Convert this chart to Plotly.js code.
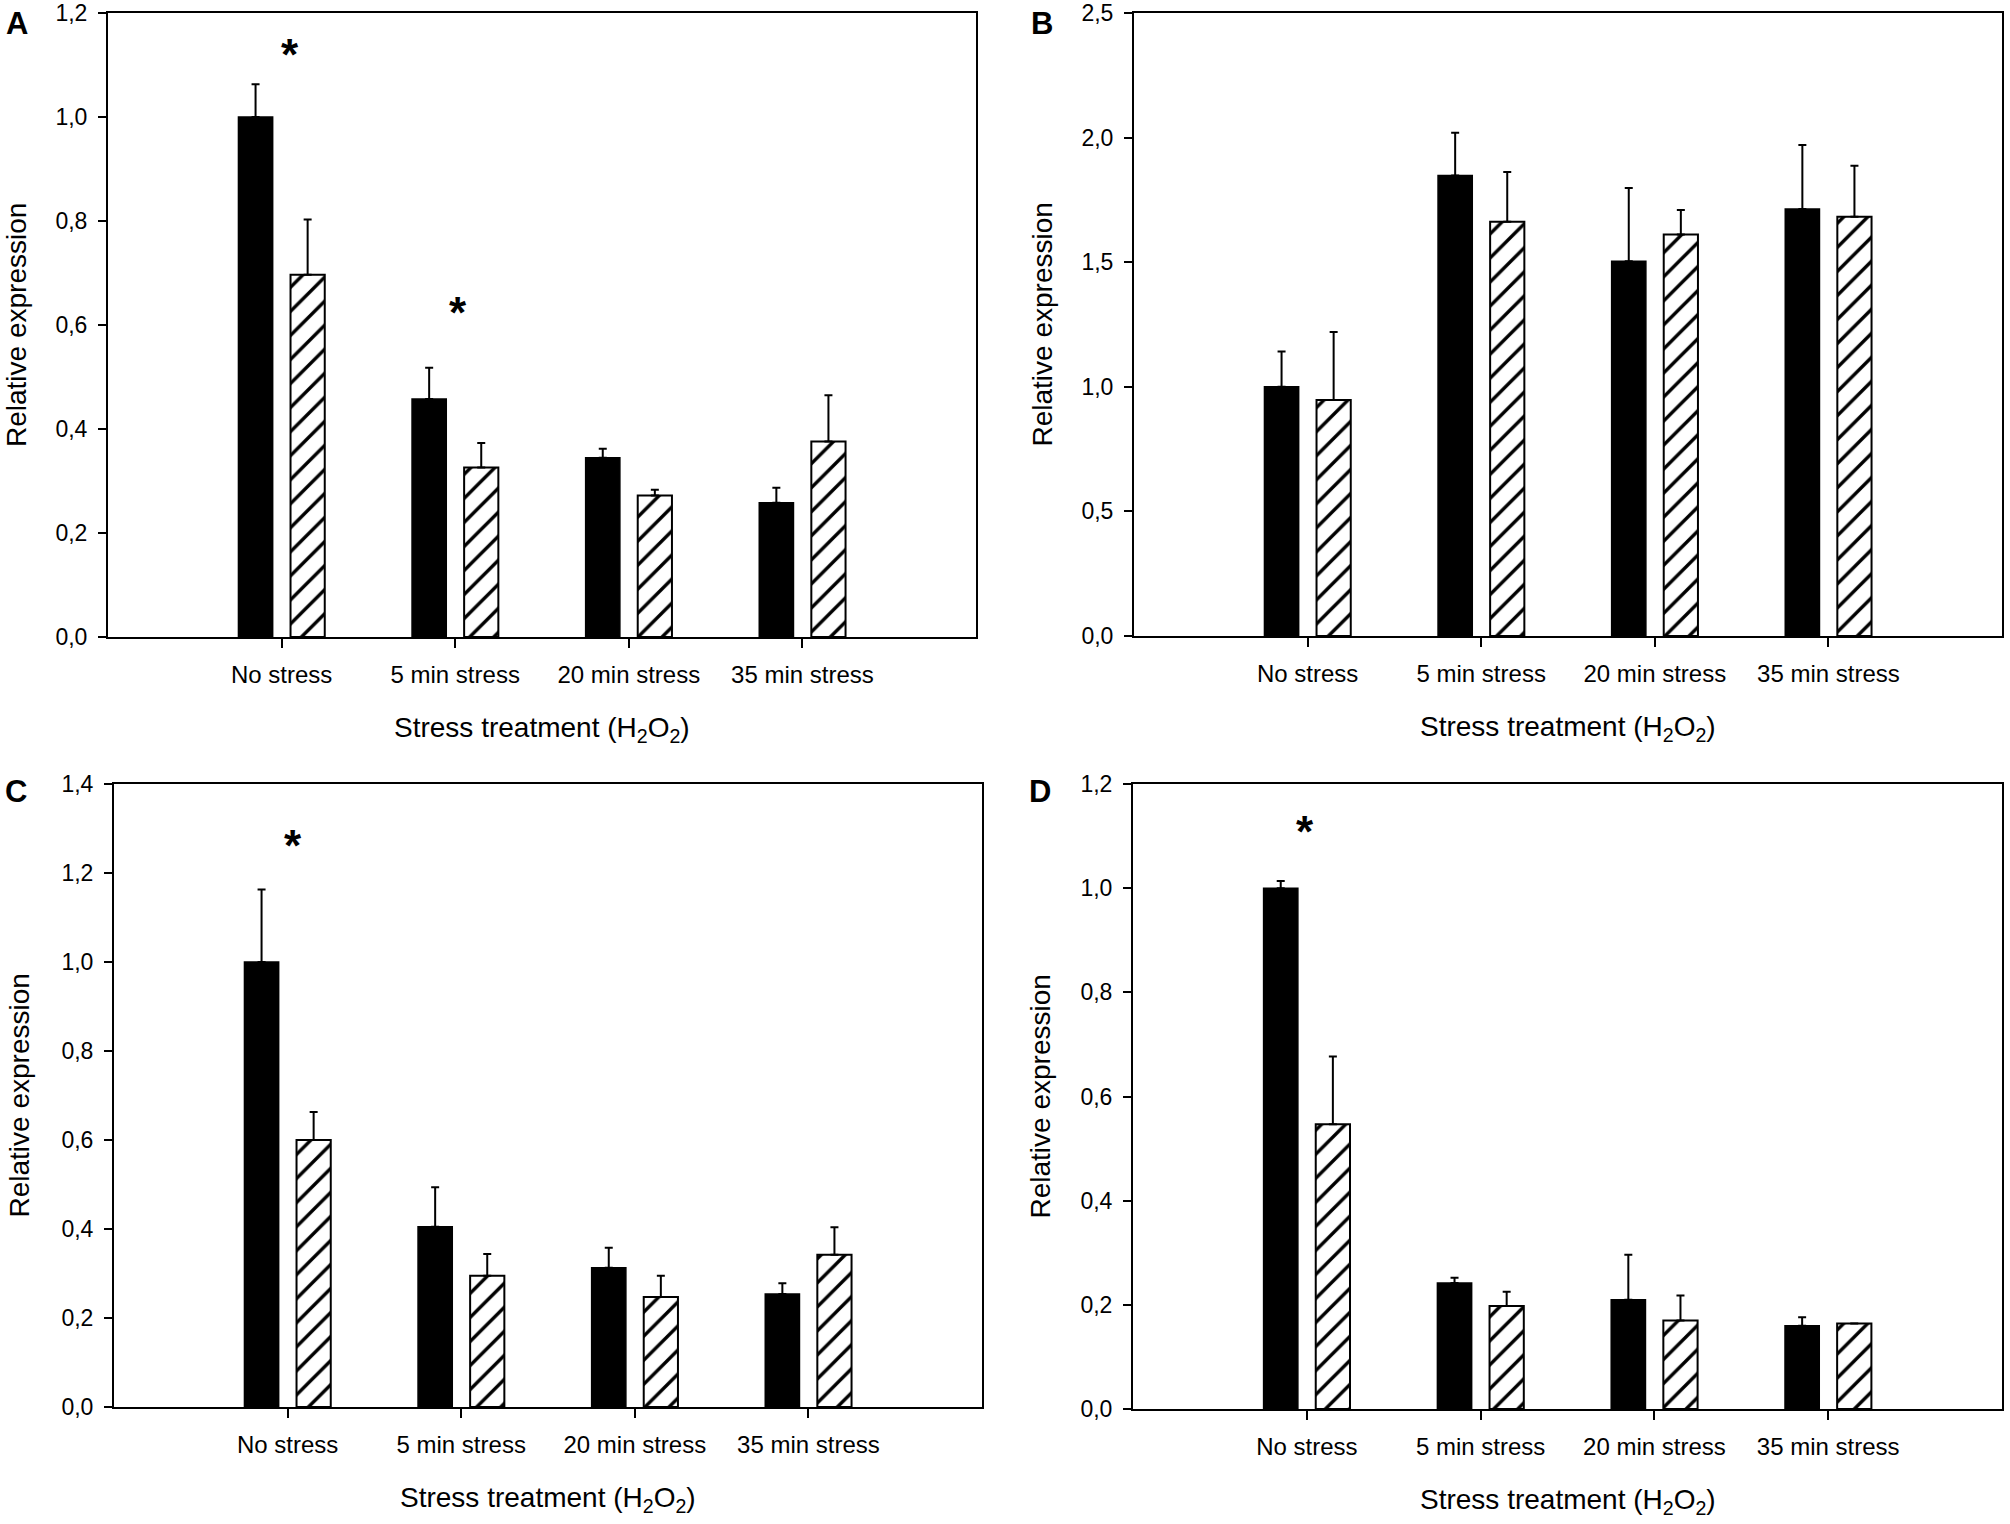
<!DOCTYPE html>
<html>
<head>
<meta charset="utf-8">
<script src="https://cdn.plot.ly/plotly-3.0.1.min.js"></script>
<style>
  html, body { margin: 0; padding: 0; background: #fff; }
  #chart { width: 2010px; height: 1524px; }
</style>
</head>
<body>
<div id="chart"></div>
<script>
const categories = ['No stress', '5 min stress', '20 min stress', '35 min stress'];

// panel A
const aSolid = [1.0, 0.458, 0.345, 0.258];
const aSolidErr = [0.063, 0.060, 0.017, 0.029];
const aHatched = [0.697, 0.326, 0.272, 0.376];
const aHatchedErr = [0.106, 0.047, 0.011, 0.089];
const aTicks = [0, 0.2, 0.4, 0.6, 0.8, 1.0, 1.2];
const aTickText = ['0,0', '0,2', '0,4', '0,6', '0,8', '1,0', '1,2'];
const aStarCats = ['No stress', '5 min stress'];
const aStarY = [1.135, 0.64];

// panel B
const bSolid = [1.0, 1.848, 1.504, 1.714];
const bSolidErr = [0.142, 0.172, 0.294, 0.257];
const bHatched = [0.947, 1.663, 1.611, 1.683];
const bHatchedErr = [0.273, 0.199, 0.099, 0.204];
const bTicks = [0, 0.5, 1.0, 1.5, 2.0, 2.5];
const bTickText = ['0,0', '0,5', '1,0', '1,5', '2,0', '2,5'];
const bStarCats = [];
const bStarY = [];

// panel C
const cSolid = [1.0, 0.405, 0.313, 0.254];
const cSolidErr = [0.163, 0.089, 0.045, 0.024];
const cHatched = [0.600, 0.295, 0.247, 0.342];
const cHatchedErr = [0.063, 0.049, 0.048, 0.062];
const cTicks = [0, 0.2, 0.4, 0.6, 0.8, 1.0, 1.2, 1.4];
const cTickText = ['0,0', '0,2', '0,4', '0,6', '0,8', '1,0', '1,2', '1,4'];
const cStarCats = ['No stress'];
const cStarY = [1.281];

// panel D
const dSolid = [1.0, 0.242, 0.210, 0.160];
const dSolidErr = [0.014, 0.010, 0.086, 0.016];
const dHatched = [0.547, 0.198, 0.170, 0.164];
const dHatchedErr = [0.130, 0.027, 0.048, 0];
const dTicks = [0, 0.2, 0.4, 0.6, 0.8, 1.0, 1.2];
const dTickText = ['0,0', '0,2', '0,4', '0,6', '0,8', '1,0', '1,2'];
const dStarCats = ['No stress'];
const dStarY = [1.125];

const W = 2010, H = 1524;
const FONT = '"Liberation Sans", Arial, Helvetica, sans-serif';
const px = (x) => x / W;
const py = (y) => 1 - y / H;

// frame boxes in page pixels [left, top, right, bottom], label / title anchors
const panels = [
    { letter: 'A', solid: aSolid, solidErr: aSolidErr, hatched: aHatched, hatchedErr: aHatchedErr,
      ticks: aTicks, tickText: aTickText, yMax: 1.2, starCats: aStarCats, starY: aStarY, starShift: [8, 3],
      box: [108, 13, 976, 637], letterPos: [17, 24], yTitleX: 16 },
    { letter: 'B', solid: bSolid, solidErr: bSolidErr, hatched: bHatched, hatchedErr: bHatchedErr,
      ticks: bTicks, tickText: bTickText, yMax: 2.5, starCats: bStarCats, starY: bStarY, starShift: [],
      box: [1134, 13, 2002, 636], letterPos: [1042, 24], yTitleX: 1042 },
    { letter: 'C', solid: cSolid, solidErr: cSolidErr, hatched: cHatched, hatchedErr: cHatchedErr,
      ticks: cTicks, tickText: cTickText, yMax: 1.4, starCats: cStarCats, starY: cStarY, starShift: [5],
      box: [114, 784, 982, 1407], letterPos: [16, 791], yTitleX: 19 },
    { letter: 'D', solid: dSolid, solidErr: dSolidErr, hatched: dHatched, hatchedErr: dHatchedErr,
      ticks: dTicks, tickText: dTickText, yMax: 1.2, starCats: dStarCats, starY: dStarY, starShift: [-2],
      box: [1133, 784, 2002, 1409], letterPos: [1040, 791], yTitleX: 1040 },
];

function axisKeys(i) {
    const n = i === 0 ? '' : String(i + 1);
    return { x: 'x' + n, y: 'y' + n, xa: 'xaxis' + n, ya: 'yaxis' + n };
}

const errStyle = (arr) => ({
    type: 'data', symmetric: false, array: arr, arrayminus: arr.map(() => 0),
    color: '#000', thickness: 2, width: 4,
});

function barTraces(p, k) {
    return [
        {
            type: 'bar', x: categories, y: p.solid, xaxis: k.x, yaxis: k.y,
            marker: { color: '#000', line: { color: '#000', width: 1.5 } },
            error_y: errStyle(p.solidErr), showlegend: false,
        },
        {
            type: 'bar', x: categories, y: p.hatched, xaxis: k.x, yaxis: k.y,
            marker: {
                color: '#fff', line: { color: '#000', width: 2 },
                pattern: { shape: '/', fgcolor: '#000', bgcolor: '#fff', size: 17, solidity: 0.2 },
            },
            error_y: errStyle(p.hatchedErr), showlegend: false,
        },
    ];
}

const data = [];
const annotations = [];
const layout = {
    width: W, height: H,
    margin: { l: 0, r: 0, t: 0, b: 0 },
    paper_bgcolor: '#fff', plot_bgcolor: '#fff',
    font: { family: FONT, color: '#000', size: 23 },
    barmode: 'group', bargap: 0.40, bargroupgap: 0.343,
    showlegend: false,
};

panels.forEach((p, i) => {
    const k = axisKeys(i);
    const [l, t, r, b] = p.box;
    data.push(...barTraces(p, k));

    layout[k.xa] = {
        domain: [px(l), px(r)], anchor: k.y, type: 'category', range: [-1, 4],
        showline: true, mirror: true, linecolor: '#000', linewidth: 2,
        ticks: 'outside', ticklen: 9, tickwidth: 2, tickcolor: '#000',
        tickfont: { family: FONT, size: 24, color: '#000' }, ticklabelstandoff: 6,
        showgrid: false, zeroline: false, fixedrange: true,
    };
    layout[k.ya] = {
        domain: [py(b), py(t)], anchor: k.x, range: [0, p.yMax * 1.0002],
        tickvals: p.ticks, ticktext: p.tickText, ticklabeloverflow: 'allow',
        showline: true, mirror: true, linecolor: '#000', linewidth: 2,
        ticks: 'outside', ticklen: 8, tickwidth: 2, tickcolor: '#000',
        tickfont: { family: FONT, size: 23, color: '#000' }, ticklabelstandoff: 6,
        showgrid: false, zeroline: false, fixedrange: true,
    };

    annotations.push({
        xref: 'paper', yref: 'paper', x: px(p.letterPos[0]), y: py(p.letterPos[1]),
        xanchor: 'center', yanchor: 'middle', showarrow: false,
        text: '<b>' + p.letter + '</b>', font: { family: FONT, size: 31, color: '#000' },
    });
    annotations.push({
        xref: 'paper', yref: 'paper', x: px((l + r) / 2), y: py(b + 92),
        xanchor: 'center', yanchor: 'middle', showarrow: false,
        text: 'Stress treatment (H<sub>2</sub>O<sub>2</sub>)', font: { family: FONT, size: 28, color: '#000' },
    });
    annotations.push({
        xref: 'paper', yref: 'paper', x: px(p.yTitleX), y: py((t + b) / 2),
        xanchor: 'center', yanchor: 'middle', showarrow: false, textangle: -90,
        text: 'Relative expression', font: { family: FONT, size: 28, color: '#000' },
    });
    p.starCats.forEach((cat, j) => {
        annotations.push({
            xref: k.x, yref: k.y, x: cat, y: p.starY[j], xshift: p.starShift[j] || 0, yshift: -8,
            xanchor: 'center', yanchor: 'middle', showarrow: false,
            text: '<b>*</b>', font: { family: FONT, size: 44, color: '#000' },
        });
    });
});

layout.annotations = annotations;

Plotly.newPlot('chart', data, layout, { displayModeBar: false, staticPlot: true });
</script>
</body>
</html>
